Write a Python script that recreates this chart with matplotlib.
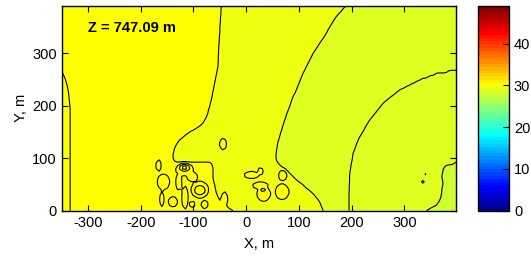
import numpy as np
import matplotlib
matplotlib.use('Agg')
import matplotlib.pyplot as plt
from matplotlib.colors import ListedColormap, Normalize
from matplotlib.cm import ScalarMappable

plt.rcParams['font.family'] = ['Liberation Sans', 'DejaVu Sans']
plt.rcParams['axes.unicode_minus'] = False

# field grid, 5 m spacing
x_grid = np.arange(-350, 401, 5)
y_grid = np.arange(390, -1, -5)          # rows listed from the top

# band codes: 1 corner, 2 inside arc, 3 right, 4 middle, 5 yellow, 6-8 highs
# X position where each band ends, per row (Y = 390 ... 0)
edge_6_5 = [-np.inf] * 25 + [
    -350, -347, -345, -343, -341.5, -340, -339, -338, -337, -336.5,
    -336, -335.5, -335, -334.5] + [-334] * 40

edge_5_4 = [
    -47, -47.5, -48, -48, -48.5, -49, -49, -49.5, -50, -50,
    -50, -50.5, -51, -51, -51.5, -52, -52, -52.5, -52.5, -53,
    -53, -53, -53.5, -53.5, -54.5, -55.5, -56.5, -57.5, -58.5, -59.5,
    -60.5, -61.5, -62.5, -63.5, -64.5, -65.5, -66.5, -68, -69, -70.5,
    -72, -73, -75, -77.5, -80, -84, -90, -98, -107, -114,
    -120, -126, -130, -133, -135.5, -137, -138, -139, -138.5, -136,
    -66, -64, -63, -63, -63, -63, -62.5, -61.5, -60, -59,
    -58, -57, -55, -53, -50, -46, -41, -33, -25]

edge_4_3 = [
    189, 184, 180, 175.5, 171, 167.5, 164.5, 161.5, 158.5, 155.5,
    153, 150, 147, 143.5, 140, 137, 133.5, 130.5, 127, 124.5,
    122, 119.5, 117, 114.5, 112, 109.5, 107, 105, 103, 101,
    99, 97, 95, 93, 90, 88, 86, 84.5, 83, 81,
    79, 77, 75.5, 74, 72, 70.5, 69, 67.5, 66, 64.5,
    63, 61.5, 60, 59, 58.5, 57.5, 57, 56.5, 56.5, 58,
    61, 66, 74, 79, 84, 89, 94, 100, 107, 112,
    118, 124, 129, 133, 137, 140, 142, 144, 146]

edge_3_2 = [np.inf] * 25 + [
    382, 358, 345, 331, 321, 311, 301, 291, 284.5, 278.5,
    272, 266, 260, 256, 252, 248, 244, 240, 236, 232.5,
    229.5, 226.5, 224, 221, 218, 215, 212.5, 210.5, 208.5, 207,
    205, 203, 202, 201.5, 200.5, 199.5, 198.5, 198, 197, 196.5,
    196, 196, 196, 195.5, 195.5, 195.5, 195, 195, 195, 195,
    195, 195, 195, 195]

edge_2_1 = [np.inf] * 60 + [
    394, 378, 374, 373, 372, 371, 372, 373, 373, 372,
    371, 371, 370, 369, 367, 364, 360, 350, 342]

# small closed cells near the ground: (step, [(cx, cy, rx, ry), ...])
blob_groups = [
    (+1, [(-166, 86, 5, 11)]),
    (+1, [(-157, 55, 12, 15)]),
    (+1, [(-160, 22, 4.5, 14)]),
    (+1, [(-139, 17, 9, 9.5)]),
    (+1, [(-102, 12, 4.5, 6.5)]),
    (+1, [(-79, 12, 6.5, 8)]),
    (+1, [(-117, 78, 17, 12), (-128, 55, 6, 16), (-116, 25, 6, 22),
          (-102, 64, 10, 9), (-88, 40, 17, 16)]),
    (-1, [(-88, 39, 10, 9)]),
    (+1, [(-117, 82, 10, 7)]),
    (+1, [(-117, 82, 5, 4)]),
    (+1, [(-44, 127, 6.5, 11)]),
    (+1, [(-41, 22, 6, 14)]),
    (+1, [(10, 68, 14, 7), (27, 75, 5, 7)]),
    (+1, [(27, 48, 15, 7), (33, 32, 13, 14)]),
    (-1, [(32, 39.5, 4, 4)]),
    (+1, [(69, 67, 8, 10)]),
    (+1, [(68, 36, 13, 15)]),
    (+1, [(339, 68, 2.5, 2.5)]),
    (+1, [(335, 55, 2.5, 2.5)]),
]

levels = [0.5, 1.5, 2.5, 3.5, 4.5, 5.5, 6.5, 7.5, 8.5]
band_jet_rows = [36, 37, 37, 38, 39, 39, 39, 39]   # colour of each band in jet(64)
cbar_ticks = [0, 10, 20, 30, 40]
label_text = 'Z = 747.09 m'

# build the field table from the edges and cells above
edges = [edge_6_5, edge_5_4, edge_4_3, edge_3_2, edge_2_1]
Z = np.ones((len(y_grid), len(x_grid)))
for r in range(len(y_grid)):
    for e in edges:
        Z[r] += np.clip((e[r] - x_grid) / 10 + 0.5, 0, 1)

xx, yy = np.meshgrid(x_grid, y_grid)
for step, shapes in blob_groups:
    cell = np.zeros_like(Z)
    for cx, cy, rx, ry in shapes:
        d = np.sqrt(((xx - cx) / rx) ** 2 + ((yy - cy) / ry) ** 2)
        cell = np.maximum(cell, np.clip((1 - d) * min(rx, ry) / 5 + 0.5, 0, 1))
    Z += step * cell


def matlab_jet(m=64):
    n = int(np.ceil(m / 4))
    u = np.concatenate([np.arange(1, n + 1) / n, np.ones(n - 1), np.arange(n, 0, -1) / n])
    g = int(np.ceil(n / 2)) - int(m % 4 == 1) + np.arange(1, len(u) + 1)
    r = g + n
    b = g - n
    colors = np.zeros((m, 3))
    for ch, idx in ((0, r), (1, g), (2, b)):
        keep = (idx >= 1) & (idx <= m)
        colors[idx[keep] - 1, ch] = u[keep]
    return ListedColormap(colors)


cmap = matlab_jet(64)
norm = Normalize(vmin=0, vmax=49)
band_colors = [cmap.colors[i] for i in band_jet_rows]

fig = plt.figure(figsize=(5.31, 2.61), dpi=100)
ax = fig.add_axes([0.1162, 0.1927, 0.7426, 0.7843])
cax = fig.add_axes([0.9008, 0.1927, 0.0578, 0.7843])

ax.contourf(x_grid, y_grid, Z, levels=levels, colors=band_colors)
ax.contour(x_grid, y_grid, Z, levels=levels[1:-1], colors='black', linewidths=0.8)

ax.set_xlim(-350, 398)
ax.set_ylim(0, 390)
ax.set_xticks([-300, -200, -100, 0, 100, 200, 300])
ax.set_yticks([0, 100, 200, 300])
ax.tick_params(direction='in', length=4, width=0.8, top=True, right=True, labelsize=10.5)
for s in ax.spines.values():
    s.set_linewidth(1.0)
ax.set_xlabel('X, m', fontsize=10.5, labelpad=5)
ax.set_ylabel('Y, m', fontsize=10.5, labelpad=3)
ax.text(-300, 348, label_text, fontsize=10.5, fontweight='bold', va='center', ha='left')

cb = fig.colorbar(ScalarMappable(norm=norm, cmap=cmap), cax=cax, ticks=cbar_ticks)
cax.tick_params(direction='in', length=4, width=0.8, labelsize=10.5)
cb.outline.set_linewidth(1.0)

plt.savefig('out.png', dpi=100)
